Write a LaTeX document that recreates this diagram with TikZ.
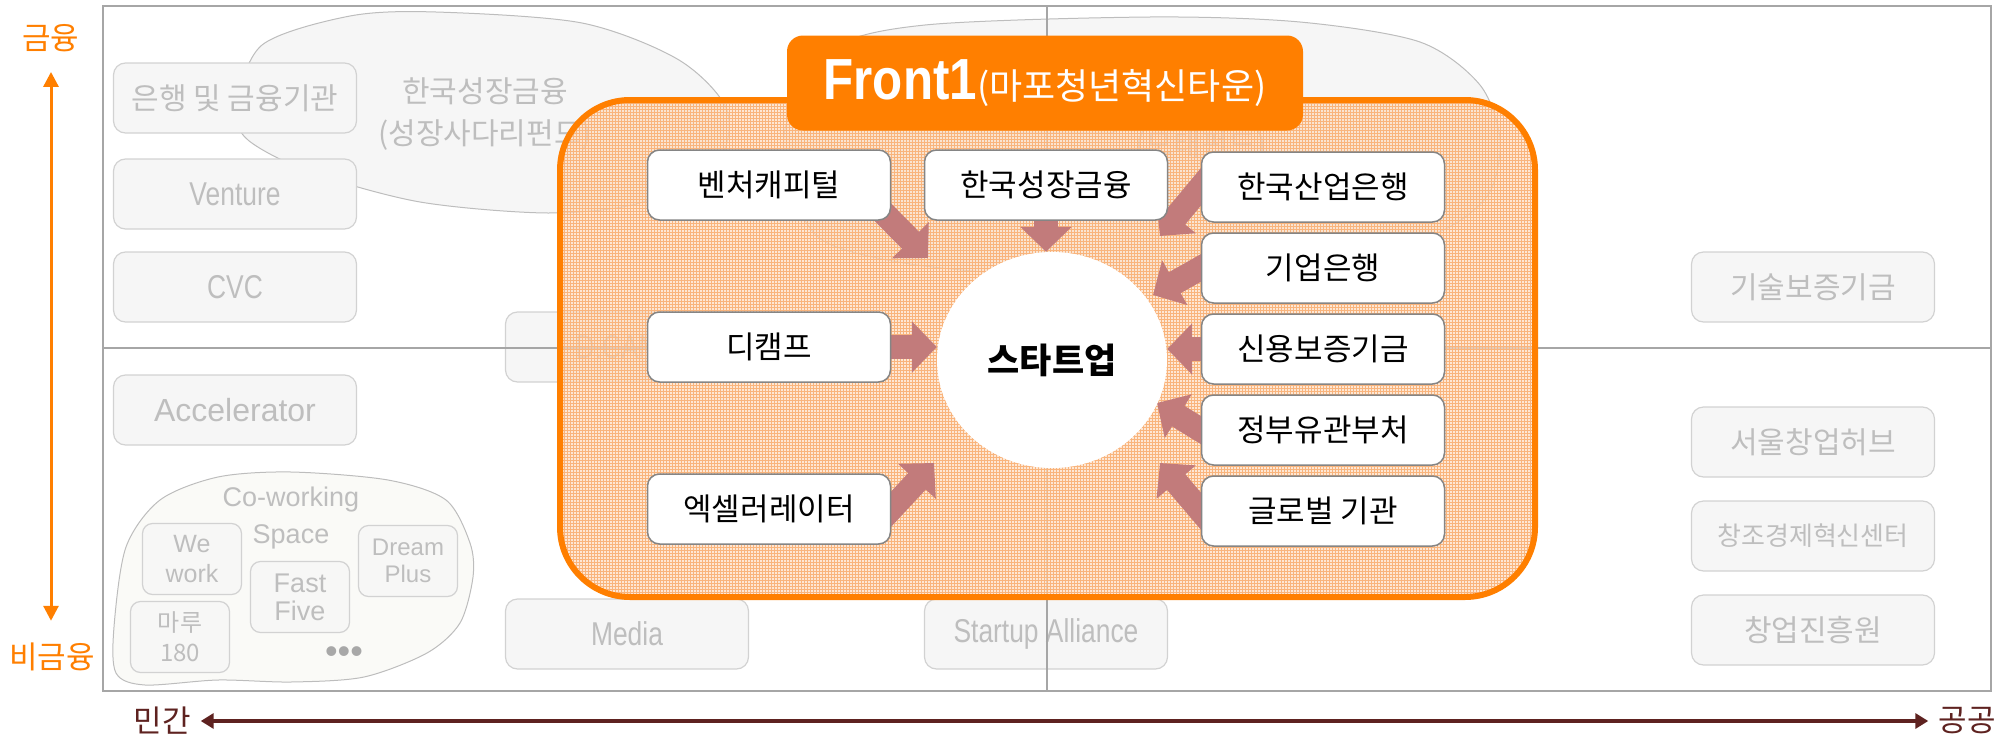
\documentclass[tikz,border=0pt]{standalone}
\usepackage{fontspec}
\setmainfont{Noto Sans CJK KR}
\newfontfamily\latinfont{Liberation Sans}
\newfontfamily\narrowfont[FakeStretch=0.8]{Liberation Sans}
\newfontfamily\titlefont[FakeStretch=0.85]{Liberation Sans}
\usetikzlibrary{arrows.meta,shapes.geometric,patterns,calc}
\pgfdeclarelayer{background}
\pgfsetlayers{background,main}

\definecolor{front}{HTML}{FF7F00}
\definecolor{frontfill}{HTML}{FDDDC2}
\definecolor{frontgrid}{HTML}{F9B47C}
\definecolor{flowred}{HTML}{C27B7B}
\definecolor{maroon}{HTML}{5E2220}
\definecolor{ghostfill}{HTML}{F6F6F6}
\definecolor{ghostline}{HTML}{D2D2D2}
\definecolor{ghosttext}{HTML}{BEBEBE}
\definecolor{cowfill}{HTML}{FAFAF7}
\definecolor{blobline}{HTML}{BDBDBD}
\definecolor{frameline}{HTML}{A6A6A6}
\definecolor{memberline}{HTML}{858585}
\definecolor{dotgray}{HTML}{A8A8A8}

\tikzset{
  ghost/.style={draw=ghostline,fill=ghostfill,line width=1.2pt,rounded corners=12pt,
    minimum width=243pt,minimum height=70pt,text=ghosttext,font=\fontsize{30}{34}\selectfont},
  ghostlatin/.style={ghost,font=\narrowfont\fontsize{33}{38}\selectfont},
  spacebox/.style={ghost,fill=ghostfill!70!cowfill,rounded corners=10pt,minimum width=99pt,
    minimum height=71pt,inner sep=1pt,align=center},
  member/.style={draw=memberline,fill=white,line width=1.5pt,rounded corners=12pt,
    minimum width=243pt,minimum height=70pt,font=\fontsize{31}{34}\selectfont},
  flow/.style={draw=flowred,line width=24pt,shorten <=-20pt,
    -{Triangle[length=25pt,width=50pt]}},
  blob/.style={draw=blobline,fill=ghostfill,line width=1pt},
  axislabel/.style={inner sep=0pt,font=\fontsize{31}{34}\selectfont},
}

\begin{document}
\begin{tikzpicture}[x=1pt,y=-1pt]
\useasboundingbox (0,0) rectangle (2014,739);

\node[member] (vc) at (769,185) {벤처캐피털};
\node[member] (kgf) at (1046,185) {한국성장금융};
\node[member] (dc) at (769,347) {디캠프};
\node[member] (acc) at (769,509) {엑셀러레이터};
\node[member] (kdb) at (1323,187) {한국산업은행};
\node[member] (ibk) at (1323,268) {기업은행};
\node[member] (kodit) at (1323,349) {신용보증기금};
\node[member] (gov) at (1323,430) {정부유관부처};
\node[member] (glob) at (1323,511) {글로벌 기관};
\node[ellipse,fill=white,minimum width=230pt,minimum height=216pt,inner sep=0pt,
  font=\bfseries\fontsize{35}{38}\selectfont] (su) at (1052,360) {스타트업};
\node[fill=front,rounded corners=16pt,minimum width=516pt,minimum height=95pt,
  inner sep=0pt,text=white] (head) at (1045,83)
  {{\titlefont\bfseries\fontsize{58}{60}\selectfont Front1}\fontsize{36}{40}\selectfont(마포청년혁신타운)};

\node[axislabel,text=front] (fin) at (51,38) {금융};
\node[axislabel,text=front] (nonfin) at (52,657) {비금융};
\node[axislabel,text=maroon] (priv) at (162,721) {민간};
\node[axislabel,text=maroon] (publ) at (1967,721) {공공};
\draw[front,line width=3pt,shorten <=20pt,shorten >=22pt,
  {Triangle[length=15pt,width=15pt]}-{Triangle[length=15pt,width=15pt]}]
  (fin.south) -- (fin.south |- nonfin.north);
\draw[maroon,line width=4pt,shorten <=10pt,shorten >=10pt,
  {Triangle[length=13pt,width=15pt]}-{Triangle[length=13pt,width=15pt]}]
  (priv.east) -- (priv.east -| publ.west);

\coordinate (vctip) at ($(su)+(-124,-102)$);
\coordinate (acctip) at ($(su)+(-118,103)$);
\coordinate (kdbtip) at ($(su)+(108,-124)$);
\coordinate (ibktip) at ($(su)+(101,-65)$);
\coordinate (govtip) at ($(su)+(105,43)$);
\coordinate (globtip) at ($(su)+(108,103)$);

\begin{pgfonlayer}{background}
\path[blob] plot[smooth cycle] coordinates {(236,108) (262,45) (350,16) (436,12) (582,23)
  (679,60) (727,110) (716,165) (640,203) (548,213) (420,202) (310,172) (248,140)};
\path[blob] plot[smooth cycle] coordinates {(786,125) (830,50) (925,25) (1150,17) (1300,22)
  (1420,42) (1480,85) (1500,140) (1488,195) (1437,233) (1330,262) (1200,277) (1047,276)
  (910,264) (822,240) (790,185)};
\path[blob,fill=cowfill] plot[smooth cycle] coordinates {(116,673) (114,627) (126,547)
  (160,500) (218,477) (291,472) (388,480) (446,500) (470,543) (473,577) (460,623)
  (427,653) (364,677) (291,682) (218,680) (145,685)};

\node[text=ghosttext,align=center,font=\fontsize{30}{42}\selectfont] (kgfblob) at (485,114)
  {한국성장금융\\(성장사다리펀드)};
\node[text=ghosttext,font=\fontsize{30}{34}\selectfont] (motae) at (1201,146) {(모태펀드)};

\node[ghost] (bank) at (235,98) {은행 및 금융기관};
\node[ghostlatin] (venture) at (235,194) {Venture};
\node[ghostlatin] (cvc) at (235,287) {CVC};
\node[ghost,font=\latinfont\fontsize{32}{38}\selectfont] (accel) at (235,410) {Accelerator};
\node[ghostlatin] (dcamp) at (627,347) {D.CAMP};
\node[ghostlatin] (media) at (627,634) {Media};
\node[ghostlatin] (alliance) at (1046,634) {Startup Alliance};
\node[ghost] (motaebox) at (1000,98) {};
\node[ghost] (kibo) at (1813,287) {기술보증기금};
\node[ghost] (hub) at (1813,442) {서울창업허브};
\node[ghost,font=\fontsize{26}{30}\selectfont] (ccei) at (1813,536) {창조경제혁신센터};
\node[ghost] (kised) at (1813,630) {창업진흥원};

\node[text=ghosttext,align=center,font=\latinfont\fontsize{27}{37}\selectfont] (cowork)
  at (291,518) {Co-working\\Space};
\node[spacebox,font=\latinfont\fontsize{25}{30}\selectfont] (wework) at (192,559) {We\\work};
\node[spacebox,font=\latinfont\fontsize{27}{28}\selectfont] (fastfive) at (300,597) {Fast\\Five};
\node[spacebox,font=\latinfont\fontsize{24}{27}\selectfont] (dream) at (408,561) {Dream\\Plus};
\node[spacebox,font=\fontsize{24}{30}\selectfont] (maru) at (180,637) {마루\\180};
\node[text=dotgray,font=\latinfont\fontsize{36}{40}\selectfont] (more) at (344,655) {•••};

\path[draw=frameline,line width=2pt] (103,6) rectangle (1991,691);
\path[draw=frameline,line width=1.5pt] (103,348) -- (1991,348);
\path[draw=frameline,line width=1.5pt] (1047,6) -- (1047,691);

\path[draw=front,line width=6pt,rounded corners=70pt,pattern=grid,pattern color=frontgrid,
  fill opacity=0.7,preaction={fill=frontfill,fill opacity=0.7}] (560,100) rectangle (1535,597);

\draw[flow] (vc.south east) -- (vctip);
\draw[flow] (kgf.south) -- (kgf.south |- su.north);
\draw[flow] (dc.east) -- (dc.east -| su.west);
\draw[flow] (acc.east) -- (acctip);
\draw[flow] (kdb.west) -- (kdbtip);
\draw[flow] (ibk.west) -- (ibktip);
\draw[flow] (kodit.west) -- (kodit.west -| su.east);
\draw[flow] (gov.west) -- (govtip);
\draw[flow] (glob.west) -- (globtip);
\end{pgfonlayer}
\end{tikzpicture}
\end{document}
